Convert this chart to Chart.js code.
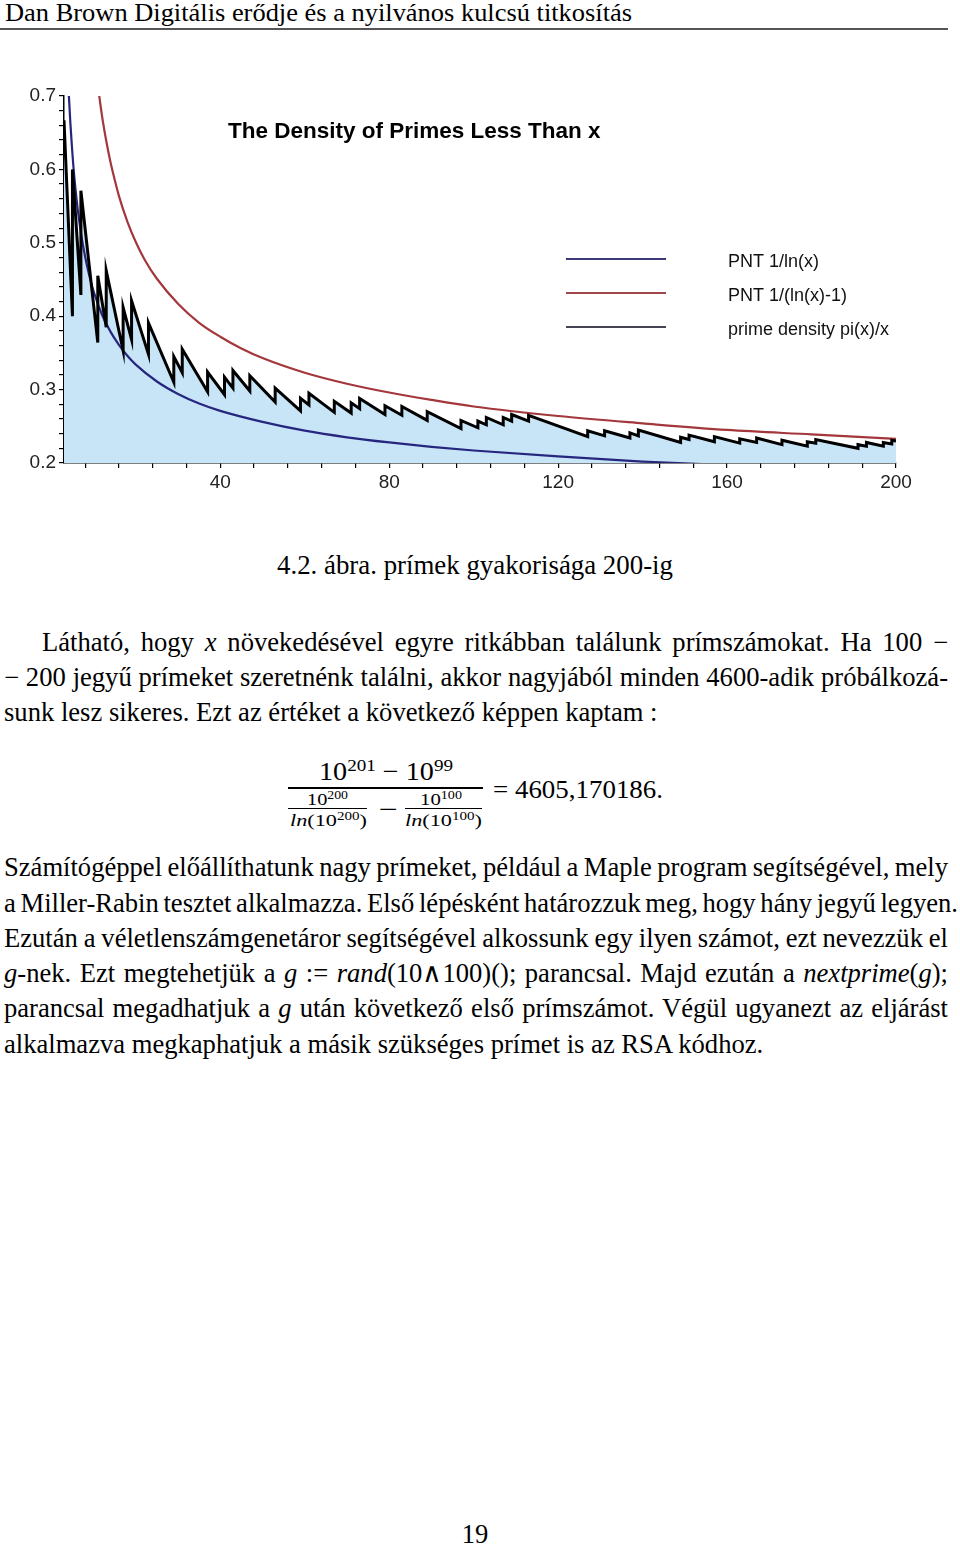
<!DOCTYPE html>
<html>
<head>
<meta charset="utf-8">
<script src="https://cdn.jsdelivr.net/npm/chart.js@4.4.0/dist/chart.umd.min.js"></script>
<style>
html, body { margin: 0; padding: 0; background: #fff; }
body { width: 960px; height: 1549px; position: relative; overflow: hidden; font-family: "Liberation Serif", "Times New Roman", serif; color: #000; }
.t { position: absolute; white-space: nowrap; line-height: 1; transform-origin: 0 0; font-family: "Liberation Serif", "Times New Roman", serif; }
.bar { position: absolute; background: #000; }
sup { font-size: 0.68em; vertical-align: 0.5em; line-height: 0; }
#chartBox { position: absolute; left: 0; top: 80px; width: 960px; height: 420px; }
</style>
</head>
<body>
<div class="bar" style="left:0;top:28px;width:948px;height:2px;background:#555"></div>
<div id="chartBox"><canvas id="prime-chart" width="960" height="420"></canvas></div>

<script>
// Chart values
const chartTitle = "The Density of Primes Less Than x";

// PNT 1/ln(x)
const lnX = [3, 4, 5, 6, 7, 8, 9, 10, 12, 14, 16, 18, 20, 25, 30, 35, 40, 50, 60, 70, 80, 90, 100, 120, 140, 160, 180, 200];
const lnY = [0.910, 0.721, 0.621, 0.558, 0.514, 0.481, 0.455, 0.434, 0.402, 0.379, 0.361, 0.346, 0.334, 0.311, 0.294, 0.281, 0.271, 0.256, 0.244, 0.235, 0.228, 0.222, 0.217, 0.209, 0.202, 0.197, 0.193, 0.189];

// PNT 1/(ln(x)-1)
const lnMinusX = [11, 12, 13, 14, 15, 16, 18, 20, 22, 25, 30, 35, 40, 45, 50, 60, 70, 80, 90, 100, 120, 140, 160, 180, 200];
const lnMinusY = [0.715, 0.673, 0.639, 0.610, 0.586, 0.564, 0.529, 0.501, 0.478, 0.451, 0.417, 0.391, 0.372, 0.356, 0.343, 0.323, 0.308, 0.296, 0.286, 0.277, 0.264, 0.254, 0.245, 0.239, 0.233];

// prime density pi(x)/x : value just before and just after each jump
const startX = 3, startDensity = 0.667;
const endX = 200, endDensity = 0.230;
const primeX = [5, 7, 11, 13, 17, 19, 23, 29, 31, 37, 41, 43, 47, 53, 59, 61, 67, 71, 73, 79, 83, 89, 97, 101, 103, 107, 109, 113, 127, 131, 137, 139, 149, 151, 157, 163, 167, 173, 179, 181, 191, 193, 197, 199];
const densityLow = [0.400, 0.429, 0.364, 0.385, 0.353, 0.368, 0.348, 0.310, 0.323, 0.297, 0.293, 0.302, 0.298, 0.283, 0.271, 0.279, 0.269, 0.268, 0.274, 0.266, 0.265, 0.258, 0.247, 0.248, 0.252, 0.252, 0.257, 0.257, 0.236, 0.237, 0.234, 0.237, 0.228, 0.232, 0.229, 0.227, 0.228, 0.225, 0.223, 0.227, 0.220, 0.223, 0.223, 0.226];
const densityHigh = [0.600, 0.571, 0.455, 0.462, 0.412, 0.421, 0.391, 0.345, 0.355, 0.324, 0.317, 0.326, 0.319, 0.302, 0.288, 0.295, 0.284, 0.282, 0.288, 0.278, 0.277, 0.270, 0.258, 0.257, 0.262, 0.262, 0.266, 0.265, 0.244, 0.244, 0.241, 0.245, 0.235, 0.238, 0.236, 0.233, 0.234, 0.231, 0.229, 0.232, 0.225, 0.228, 0.228, 0.231];

// Axis ticks
const xTicks = [8, 16, 24, 32, 40, 48, 56, 64, 72, 80, 88, 96, 104, 112, 120, 128, 136, 144, 152, 160, 168, 176, 184, 192, 200];
const xLabels = [40, 80, 120, 160, 200];
const yTicks = [0.2, 0.22, 0.24, 0.26, 0.28, 0.3, 0.32, 0.34, 0.36, 0.38, 0.4, 0.42, 0.44, 0.46, 0.48, 0.5, 0.52, 0.54, 0.56, 0.58, 0.6, 0.62, 0.64, 0.66, 0.68, 0.7];
const yLabels = [0.2, 0.3, 0.4, 0.5, 0.6, 0.7];

const sansFont = '"Liberation Sans", Arial, Helvetica, sans-serif';

function toPoints(xs, ys) {
	return xs.map((x, i) => ({ x: x, y: ys[i] }));
}

const densityPoints = [{ x: startX, y: startDensity }];
primeX.forEach((p, i) => {
	densityPoints.push({ x: p, y: densityLow[i] }, { x: p, y: densityHigh[i] });
});
densityPoints.push({ x: endX, y: endDensity });

// Title and legend sit inside the plot area, so they are drawn here
const titleAndLegend = {
	id: "titleAndLegend",
	afterDraw(chart) {
		const c = chart.ctx;
		c.save();
		c.fillStyle = "#000";
		c.textBaseline = "middle";
		c.font = "bold 22.5px " + sansFont;
		c.fillText(chartTitle, 228, 52);

		c.font = "18px " + sansFont;
		chart.data.datasets.forEach((ds, i) => {
			const y = 179 + i * 34;
			c.strokeStyle = ds.legendColor;
			c.lineWidth = 2;
			c.beginPath();
			c.moveTo(566, y);
			c.lineTo(666, y);
			c.stroke();
			c.fillStyle = "#111";
			c.fillText(ds.label, 728, y + 3);
		});
		c.restore();
	},
};

const axisGrid = {
	drawOnChartArea: false,
	drawTicks: true,
	tickLength: 5,
	color: "#000",
	lineWidth: 1.2,
};

const ctx = document.getElementById("prime-chart").getContext("2d");
new Chart(ctx, {
	type: "line",
	data: {
		datasets: [
			{
				label: "PNT 1/ln(x)",
				data: toPoints(lnX, lnY),
				borderColor: "#26267f",
				legendColor: "#3a3a78",
				borderWidth: 2.2,
				cubicInterpolationMode: "monotone",
				pointRadius: 0,
				fill: false,
			},
			{
				label: "PNT 1/(ln(x)-1)",
				data: toPoints(lnMinusX, lnMinusY),
				borderColor: "#a3373c",
				legendColor: "#a04848",
				borderWidth: 2.2,
				cubicInterpolationMode: "monotone",
				pointRadius: 0,
				fill: false,
			},
			{
				label: "prime density pi(x)/x",
				data: densityPoints,
				borderColor: "#000",
				legendColor: "#444455",
				backgroundColor: "#c8e5f8",
				borderWidth: 3,
				tension: 0,
				pointRadius: 0,
				fill: "start",
				order: -1,
			},
		],
	},
	options: {
		responsive: false,
		animation: false,
		layout: { padding: { top: 16, right: 64, left: 0, bottom: 0 } },
		plugins: {
			legend: { display: false },
			tooltip: { enabled: false },
			filler: { drawTime: "beforeDatasetsDraw" },
		},
		scales: {
			x: {
				type: "linear",
				min: 3,
				max: 200,
				afterBuildTicks: (scale) => {
					scale.ticks = xTicks.map((v) => ({ value: v }));
				},
				afterFit: (scale) => {
					scale.height = 37;
				},
				grid: axisGrid,
				border: { display: true, color: "#000", width: 1.5 },
				ticks: {
					autoSkip: false,
					maxRotation: 0,
					padding: 3,
					color: "#222",
					font: { family: sansFont, size: 19 },
					callback: (v) => (xLabels.includes(v) ? String(v) : ""),
				},
			},
			y: {
				min: 0.2,
				max: 0.7,
				afterBuildTicks: (scale) => {
					scale.ticks = yTicks.map((v) => ({ value: v }));
				},
				afterFit: (scale) => {
					scale.width = 64;
				},
				grid: axisGrid,
				border: { display: true, color: "#000", width: 1.5 },
				ticks: {
					autoSkip: false,
					padding: 3,
					color: "#222",
					font: { family: sansFont, size: 19 },
					callback: (v) => (yLabels.some((l) => Math.abs(l - v) < 1e-6) ? v.toFixed(1) : ""),
				},
			},
		},
	},
	plugins: [titleAndLegend],
});

// Page text around the chart
function addText(html, fs, left, yc, opts) {
	opts = opts || {};
	const el = document.createElement("div");
	el.className = "t";
	el.style.fontSize = fs + "px";
	el.innerHTML = html;
	document.body.appendChild(el);
	const w = el.getBoundingClientRect().width;
	if (opts.right) {
		const spaces = (el.textContent.match(/ /g) || []).length;
		if (spaces) el.style.wordSpacing = (opts.right - left - w) / spaces + "px";
	}
	if (opts.width) {
		el.style.transform = "scaleX(" + opts.width / w + ")";
	}
	if (opts.cx) left = opts.cx - w / 2;
	el.style.left = left + "px";
	el.style.top = yc - 0.51 * fs + "px";
	return el;
}

function addBar(left, top, width, height) {
	const b = document.createElement("div");
	b.className = "bar";
	b.style.cssText = "left:" + left + "px;top:" + top + "px;width:" + width + "px;height:" + height + "px";
	document.body.appendChild(b);
}

// body size from the last line, which is set at natural width
const probe = addText("alkalmazva megkaphatjuk a másik szükséges prímet is az RSA kódhoz.", 26, 4, 1045);
const bodySize = Math.round(26 * 758 / probe.getBoundingClientRect().width * 10) / 10;
probe.remove();

addText("Dan Brown Digitális erődje és a nyilvános kulcsú titkosítás", 26, 5, 13, { width: 627 });
addText("4.2. ábra. prímek gyakorisága 200-ig", bodySize, 277, 566, { width: 396 });

const bodyLines = [
	["Látható, hogy <i>x</i> növekedésével egyre ritkábban találunk prímszámokat. Ha 100 −", 42, 643, 948],
	["− 200 jegyű prímeket szeretnénk találni, akkor nagyjából minden 4600-adik próbálkozá-", 4, 678, 948],
	["sunk lesz sikeres. Ezt az értéket a következő képpen kaptam :", 4, 713, 0],
	["Számítógéppel előállíthatunk nagy prímeket, például a Maple program segítségével, mely", 4, 868, 948],
	["a Miller-Rabin tesztet alkalmazza. Első lépésként határozzuk meg, hogy hány jegyű legyen.", 4, 904, 958],
	["Ezután a véletlenszámgenetáror segítségével alkossunk egy ilyen számot, ezt nevezzük el", 4, 939, 948],
	["<i>g</i>-nek. Ezt megtehetjük a <i>g</i> := <i>rand</i>(10∧100)(); parancsal. Majd ezután a <i>nextprime</i>(<i>g</i>);", 4, 974, 948],
	["parancsal megadhatjuk a <i>g</i> után következő első prímszámot. Végül ugyanezt az eljárást", 4, 1009, 948],
	["alkalmazva megkaphatjuk a másik szükséges prímet is az RSA kódhoz.", 4, 1045, 0],
];
bodyLines.forEach((l) => addText(l[0], bodySize, l[1], l[2], { right: l[3] }));

// formula
addText("10<sup>201</sup> − 10<sup>99</sup>", 26, 319, 772, { width: 134 });
addBar(288, 787, 195, 1.5);
addText("10<sup>200</sup>", 17, 307, 800, { width: 41 });
addBar(288, 808, 79, 1);
addText("<i>ln</i>(10<sup>200</sup>)", 17, 290, 821, { width: 77 });
addText("−", 26, 379, 810, { width: 19 });
addText("10<sup>100</sup>", 17, 420, 800, { width: 42 });
addBar(405, 808, 77, 1);
addText("<i>ln</i>(10<sup>100</sup>)", 17, 405, 821, { width: 77 });
addText("= 4605,170186.", 26, 493, 790, { width: 170 });

addText("19", bodySize, 0, 1535, { cx: 475 });
</script>
</body>
</html>
